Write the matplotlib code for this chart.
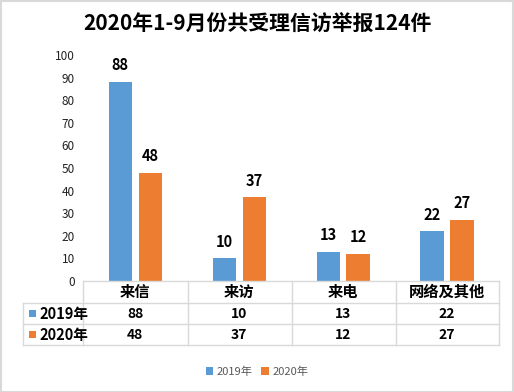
import matplotlib
matplotlib.use('Agg')
import matplotlib.pyplot as plt
import matplotlib.patches
from matplotlib.lines import Line2D
from matplotlib.transforms import blended_transform_factory
import numpy as np

plt.rcParams['font.family'] = ['Noto Sans CJK SC', 'DejaVu Sans']

# data
title = '2020年1-9月份共受理信访举报124件'
categories = ['来信', '来访', '来电', '网络及其他']
series_names = ['2019年', '2020年']
v2019 = [88, 10, 13, 22]
v2020 = [48, 37, 12, 27]
yticks = [0, 10, 20, 30, 40, 50, 60, 70, 80, 90, 100]

c_blue = '#5B9BD5'
c_orange = '#ED7D31'
c_grid = '#D9D9D9'

W, H = 514, 392
fig = plt.figure(figsize=(W / 100, H / 100), dpi=100)

def fx(px):
    return px / W

def fy(py):
    # py measured from top
    return 1 - py / H

# plot area
ax_left, ax_right, ax_top, ax_bottom = 83.3, 499, 55, 281
ax = fig.add_axes([fx(ax_left), fy(ax_bottom), fx(ax_right - ax_left), (ax_bottom - ax_top) / H])

x = np.arange(len(categories))
bw = 0.224
off = 0.144
b1 = ax.bar(x - off, v2019, bw, color=c_blue, label=series_names[0])
b2 = ax.bar(x + off, v2020, bw, color=c_orange, label=series_names[1])

for bars, vals in [(b1, v2019), (b2, v2020)]:
    for r, v in zip(bars, vals):
        ax.annotate(str(v), (r.get_x() + r.get_width() / 2, v), xytext=(0, 12),
                    textcoords='offset points', ha='center', va='center',
                    fontsize=10.5, fontweight='bold', color='black')

ax.set_xlim(-0.5, len(categories) - 0.5)
ax.set_ylim(0, 100)
ax.set_yticks(yticks)
ax.set_yticklabels([str(t) for t in yticks], fontsize=8.5, color='#222222')
ax.tick_params(axis='y', length=0, pad=6)
ax.set_xticks([])
for s in ax.spines.values():
    s.set_visible(False)

# data table below the chart
row_y = [281, 303.3, 324.3, 345.3]
col_x = [83.3, 187.7, 291.7, 395.7, 499]
tab_left = 23.3

def hline(y, x0, x1):
    fig.add_artist(Line2D([fx(x0), fx(x1)], [fy(y), fy(y)], color=c_grid, lw=1))

def vline(xp, y0, y1):
    fig.add_artist(Line2D([fx(xp), fx(xp)], [fy(y0), fy(y1)], color=c_grid, lw=1))

hline(row_y[0], col_x[0], col_x[-1])
for y in row_y[1:]:
    hline(y, tab_left, col_x[-1])
for xp in col_x:
    vline(xp, row_y[0], row_y[-1])
vline(tab_left, row_y[1], row_y[-1])

trans = blended_transform_factory(ax.transData, fig.transFigure)
for i, cat in enumerate(categories):
    fig.text(x[i], fy((row_y[0] + row_y[1]) / 2), cat, transform=trans,
             ha='center', va='center', fontsize=11, fontweight='bold')
    for j, vals in enumerate([v2019, v2020]):
        fig.text(x[i], fy((row_y[j + 1] + row_y[j + 2]) / 2), str(vals[i]), transform=trans,
                 ha='center', va='center', fontsize=10, fontweight='bold')

for j, (name, col) in enumerate(zip(series_names, [c_blue, c_orange])):
    yc = (row_y[j + 1] + row_y[j + 2]) / 2
    fig.add_artist(matplotlib.patches.Rectangle((fx(29), fy(yc + 3.5)), fx(7), 7 / H,
                                                facecolor=col, edgecolor='none'))
    fig.text(fx(39), fy(yc), name, ha='left', va='center', fontsize=10.5, fontweight='bold')

# legend
fig.legend(handles=[b1, b2], loc='center', bbox_to_anchor=(fx(257), fy(372)),
           ncol=2, frameon=False, fontsize=8, handlelength=0.7, handleheight=0.7,
           handletextpad=0.3, columnspacing=0.8, labelcolor='#595959')

# title
fig.text(fx(257), fy(23), title, ha='center', va='center', fontsize=15, fontweight='bold')

# outer border
fig.add_artist(matplotlib.patches.Rectangle((0.001, 0.001), 0.997, 0.997, transform=fig.transFigure,
                                            facecolor='none', edgecolor=c_grid, lw=1.5))

fig.savefig('out.png', dpi=100)
